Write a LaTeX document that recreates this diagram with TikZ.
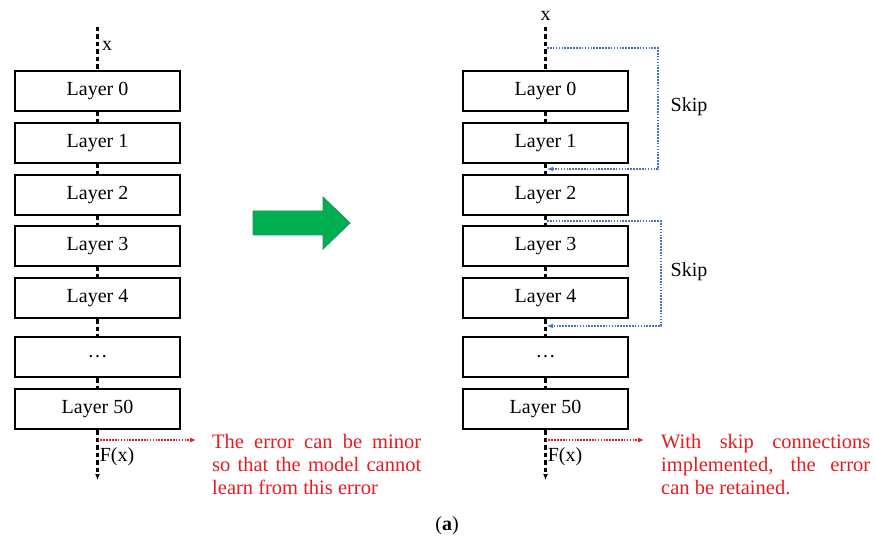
\documentclass[tikz,border=0pt]{standalone}
\usepackage{fontspec}
\setmainfont{Liberation Serif}
\usepackage{tikz}
\usetikzlibrary{arrows.meta}
\definecolor{skipblue}{RGB}{68,114,196}
\definecolor{errred}{RGB}{232,26,32}
\definecolor{arrowgreen}{RGB}{0,176,80}
\definecolor{arrowedge}{RGB}{30,140,110}
\tikzset{
	layerbox/.style={draw, line width=2pt, fill=white, minimum width=165pt, minimum height=40pt, inner sep=0pt},
	flowline/.style={line width=2.4pt, dash pattern=on 4.5pt off 3pt},
	skipline/.style={color=skipblue, line width=1.8pt, dash pattern=on 1.6pt off 1.3pt, -{Latex[length=6pt,width=5pt]}},
	errline/.style={color=errred, line width=1.8pt, dash pattern=on 1.6pt off 1.3pt, -{Latex[length=6pt,width=5pt]}},
	errtext/.style={color=errred, text width=209pt, align=justify, inner sep=0pt, anchor=north west, font=\fontsize{20.5}{23}\selectfont}
}

\begin{document}
\begin{tikzpicture}[x=1pt, y=-1pt, every node/.style={font=\fontsize{20}{23}\selectfont}]
		%%%%% START %%%%%
		\useasboundingbox (0,0) rectangle (875,545);
		
		% plain stack
		\node[layerbox] (l0) at (97.5, 91) {Layer 0};
		\node[layerbox] (l1) at (97.5, 143) {Layer 1};
		\node[layerbox] (l2) at (97.5, 195) {Layer 2};
		\node[layerbox] (l3) at (97.5, 246) {Layer 3};
		\node[layerbox] (l4) at (97.5, 298) {Layer 4};
		\node[layerbox] (ld) at (97.5, 357) {\dots};
		\node[layerbox] (l50) at (97.5, 409) {Layer 50};
		
		\coordinate (lin) at (97.5, 27);
		\coordinate (lout) at (97.5, 480);
		\node (lx) at (107, 46) {x};
		\node (lfx) at (117, 457) {F(x)};
		
		\draw[flowline] (lin) -- (l0);
		\draw[flowline] (l0) -- (l1);
		\draw[flowline] (l1) -- (l2);
		\draw[flowline] (l2) -- (l3);
		\draw[flowline] (l3) -- (l4);
		\draw[flowline] (l4) -- (ld);
		\draw[flowline] (ld) -- (l50);
		\draw[flowline, -{Latex[length=6pt,width=5pt]}] (l50) -- (lout);
		
		\coordinate (lerr) at (97.5, 440);
		\coordinate (lerrend) at (196, 440);
		\draw[errline] (lerr) -- (lerrend);
		\node[errtext] (lmsg) at (212, 434) {The error can be minor\linebreak so that the model cannot\linebreak learn from this error};
		
		% green arrow
		\draw[fill=arrowgreen, draw=arrowedge, line width=0.8pt] (253, 211) -- (323, 211) -- (323, 197) -- (350, 223) -- (323, 249) -- (323, 235) -- (253, 235) -- cycle;
		
		% stack with skips
		\node[layerbox] (r0) at (545.5, 91) {Layer 0};
		\node[layerbox] (r1) at (545.5, 143) {Layer 1};
		\node[layerbox] (r2) at (545.5, 195) {Layer 2};
		\node[layerbox] (r3) at (545.5, 246) {Layer 3};
		\node[layerbox] (r4) at (545.5, 298) {Layer 4};
		\node[layerbox] (rd) at (545.5, 357) {\dots};
		\node[layerbox] (r50) at (545.5, 409) {Layer 50};
		
		\coordinate (rin) at (545.5, 27);
		\coordinate (rout) at (545.5, 480);
		\node (rx) at (545.5, 16) {x};
		\node (rfx) at (565, 457) {F(x)};
		
		\draw[flowline] (rin) -- (r0);
		\draw[flowline] (r0) -- (r1);
		\draw[flowline] (r1) -- (r2);
		\draw[flowline] (r2) -- (r3);
		\draw[flowline] (r3) -- (r4);
		\draw[flowline] (r4) -- (rd);
		\draw[flowline] (rd) -- (r50);
		\draw[flowline, -{Latex[length=6pt,width=5pt]}] (r50) -- (rout);
		
		\coordinate (s1a) at (547, 48);
		\coordinate (s1b) at (547, 169);
		\draw[skipline] (s1a) -- ++(111, 0) |- (s1b);
		\node (skip1) at (689, 107) {Skip};
		
		\coordinate (s2a) at (547, 221);
		\coordinate (s2b) at (547, 326);
		\draw[skipline] (s2a) -- ++(114, 0) |- (s2b);
		\node (skip2) at (689, 272) {Skip};
		
		\coordinate (rerr) at (545.5, 440);
		\coordinate (rerrend) at (644, 440);
		\draw[errline] (rerr) -- (rerrend);
		\node[errtext] (rmsg) at (661, 434) {With skip connections\linebreak implemented, the error\linebreak can be retained.};
		
		\node (cap) at (447, 526) {(\textbf{a})};
		%%%%% END %%%%%
\end{tikzpicture}
\end{document}
